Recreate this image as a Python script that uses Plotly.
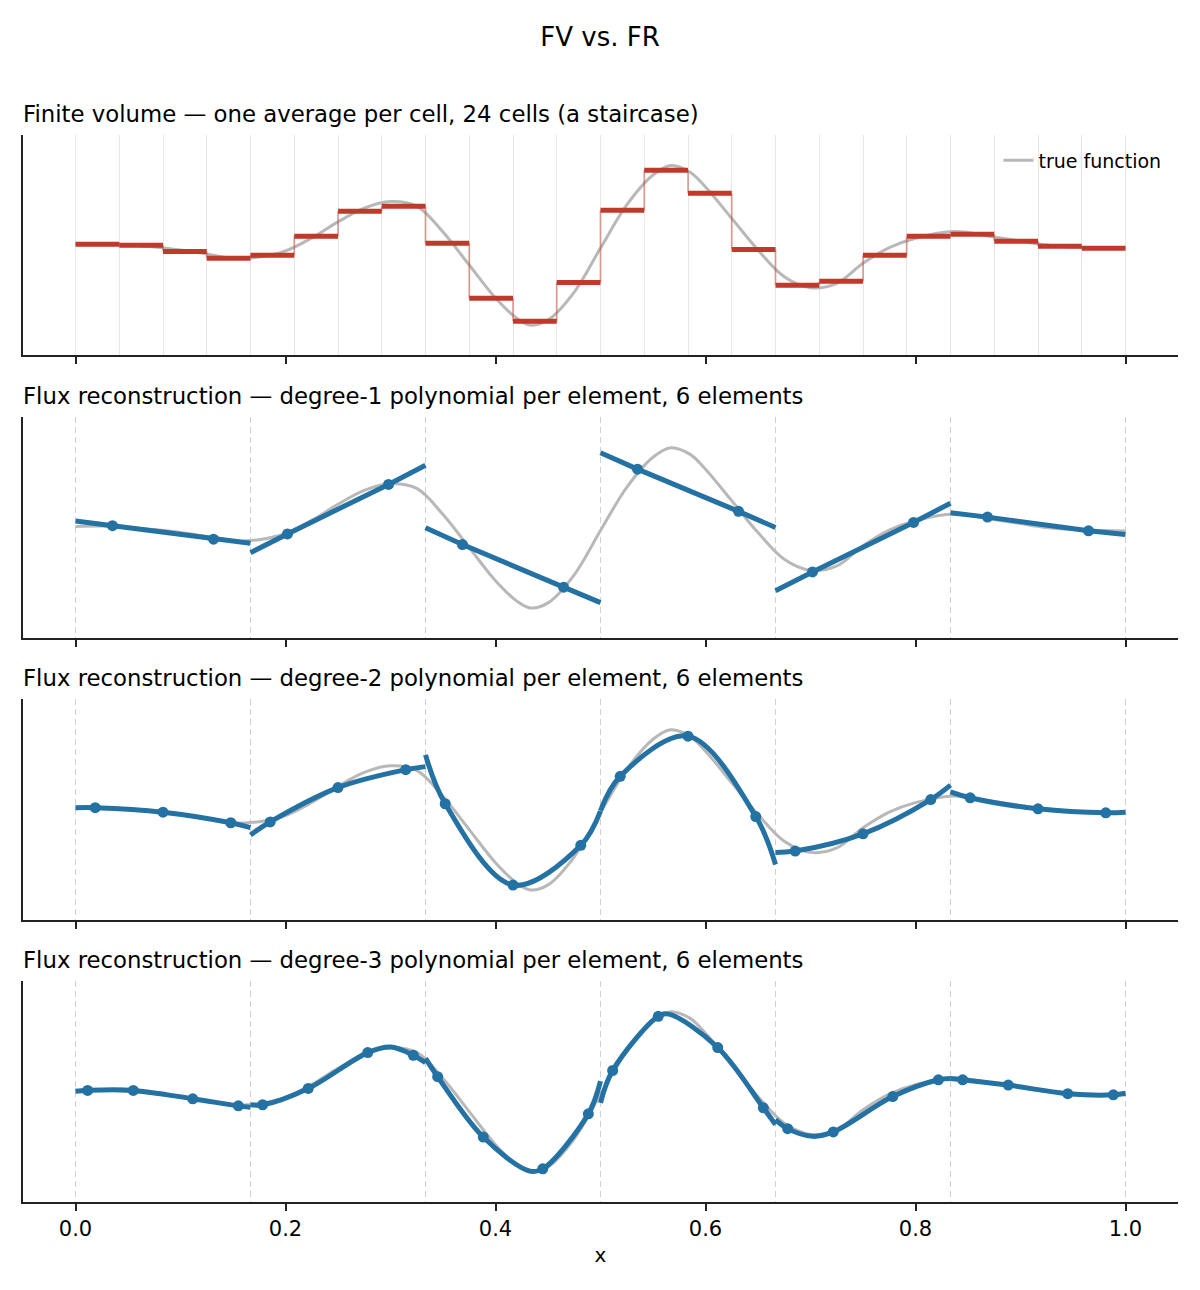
import plotly.graph_objects as go

# ---- data ----
true_x = [0.0, 0.025, 0.05, 0.075, 0.1, 0.125, 0.15, 0.175, 0.2, 0.225, 0.25, 0.275,
          0.3, 0.325, 0.35, 0.375, 0.4, 0.42, 0.433, 0.45, 0.475, 0.5, 0.525, 0.55,
          0.567, 0.585, 0.6, 0.625, 0.65, 0.675, 0.7, 0.725, 0.75, 0.775, 0.8, 0.837,
          0.875, 0.9, 0.925, 0.95, 0.975, 1.0]
true_y = [0.505, 0.507, 0.500, 0.491, 0.477, 0.459, 0.439, 0.445, 0.473, 0.532, 0.605, 0.668,
          0.698, 0.677, 0.559, 0.409, 0.259, 0.168, 0.136, 0.159, 0.286, 0.486, 0.682, 0.818,
          0.861, 0.832, 0.764, 0.621, 0.477, 0.356, 0.306, 0.326, 0.417, 0.488, 0.531, 0.561,
          0.536, 0.518, 0.500, 0.491, 0.486, 0.484]

fv_avg = [0.503, 0.499, 0.471, 0.440, 0.453, 0.540, 0.653, 0.676, 0.508, 0.258, 0.153, 0.330,
          0.658, 0.840, 0.735, 0.480, 0.317, 0.335, 0.453, 0.540, 0.549, 0.517, 0.494, 0.485]

n_elem = 6
x_ticks = [0.0, 0.2, 0.4, 0.6, 0.8, 1.0]

# solution points inside an element (fraction of element width)
sp_deg1 = [0.2113, 0.7887]
sp_deg2 = [0.1127, 0.5, 0.8873]
sp_deg3 = [0.0694, 0.33, 0.67, 0.9306]

# degree 1: values at solution points and at the element ends
deg1_nodes = [[0.508, 0.447], [0.471, 0.695], [0.423, 0.230],
              [0.764, 0.573], [0.299, 0.523], [0.547, 0.485]]
deg1_ends = [[0.529, 0.429], [0.386, 0.782], [0.499, 0.160],
             [0.838, 0.500], [0.214, 0.610], [0.567, 0.468]]

# degree 2
deg2_nodes = [[0.508, 0.488, 0.440], [0.444, 0.599, 0.680], [0.526, 0.158, 0.338],
              [0.650, 0.832, 0.468], [0.312, 0.390, 0.545], [0.553, 0.503, 0.485]]
deg2_ends = [[0.508, 0.418], [0.385, 0.694], [0.747, 0.493],
             [0.495, 0.251], [0.305, 0.610], [0.580, 0.488]]

# degree 3
deg3_nodes = [[0.505, 0.505, 0.467, 0.435], [0.440, 0.514, 0.676, 0.664],
              [0.567, 0.294, 0.150, 0.399], [0.595, 0.840, 0.699, 0.426],
              [0.332, 0.317, 0.477, 0.553], [0.553, 0.529, 0.490, 0.485]]
deg3_ends = [[0.501, 0.429], [0.440, 0.630], [0.650, 0.547],
             [0.449, 0.350], [0.373, 0.559], [0.559, 0.492]]
# extra points read where the curve turns between solution points
deg3_extra_x = [None, 0.300, 0.432, 0.565, 0.702, None]
deg3_extra_y = [None, 0.701, 0.141, 0.850, 0.297, None]

titles = [
    "Finite volume \u2014 one average per cell, 24 cells (a staircase)",
    "Flux reconstruction \u2014 degree-1 polynomial per element, 6 elements",
    "Flux reconstruction \u2014 degree-2 polynomial per element, 6 elements",
    "Flux reconstruction \u2014 degree-3 polynomial per element, 6 elements",
]

# ---- styling ----
FONT = "DejaVu Sans"
GREY = "#b8b8b8"
RED = "#c0392b"
BLUE = "#2471a3"
AXC = "#222222"

# page has an 8px body margin, so the figure is drawn 8px in from the corner
W, H = 1184, 1274
ML, MR, MT, MB = 15, 14, 127, 80
panels_px = [(127, 347), (409, 630), (691, 912), (973, 1194)]
ph = H - MT - MB
domains = [[(H - MB - b) / ph, (H - MB - t) / ph] for t, b in panels_px]

n_cells = len(fv_avg)
cell_edges = [i / n_cells for i in range(n_cells + 1)]
elem_edges = [i / n_elem for i in range(n_elem + 1)]

fig = go.Figure()

# panel 1: finite volume
fig.add_trace(go.Scatter(x=true_x, y=true_y, mode="lines", name="true function",
                         line=dict(color=GREY, width=3, shape="spline"),
                         xaxis="x", yaxis="y", showlegend=True))
cx, cy = [], []
for i in range(n_cells - 1):
    cx += [cell_edges[i + 1], cell_edges[i + 1], None]
    cy += [fv_avg[i], fv_avg[i + 1], None]
fig.add_trace(go.Scatter(x=cx, y=cy, mode="lines", showlegend=False,
                         line=dict(color="rgba(192,57,43,0.45)", width=1.8),
                         xaxis="x", yaxis="y"))
bx, by = [], []
for i, v in enumerate(fv_avg):
    bx += [cell_edges[i], cell_edges[i + 1], None]
    by += [v, v, None]
fig.add_trace(go.Scatter(x=bx, y=by, mode="lines", showlegend=False,
                         line=dict(color=RED, width=5), xaxis="x", yaxis="y"))

# panels 2-4: flux reconstruction
fr_sets = [
    (sp_deg1, deg1_nodes, deg1_ends, None, None, "linear"),
    (sp_deg2, deg2_nodes, deg2_ends, None, None, "spline"),
    (sp_deg3, deg3_nodes, deg3_ends, deg3_extra_x, deg3_extra_y, "spline"),
]
for p, (sp, nodes, ends, ex, ey, shape) in enumerate(fr_sets):
    ax = "x%d" % (p + 2)
    ay = "y%d" % (p + 2)
    fig.add_trace(go.Scatter(x=true_x, y=true_y, mode="lines", showlegend=False,
                             line=dict(color=GREY, width=3, shape="spline"),
                             xaxis=ax, yaxis=ay))
    lx, ly, mx, my = [], [], [], []
    for k in range(n_elem):
        x0, x1 = elem_edges[k], elem_edges[k + 1]
        nx = [x0 + r * (x1 - x0) for r in sp]
        pts = [(x0, ends[k][0])] + list(zip(nx, nodes[k])) + [(x1, ends[k][1])]
        if ex is not None and ex[k] is not None:
            pts.append((ex[k], ey[k]))
        pts.sort()
        lx += [q[0] for q in pts] + [None]
        ly += [q[1] for q in pts] + [None]
        mx += nx
        my += nodes[k]
    fig.add_trace(go.Scatter(x=lx, y=ly, mode="lines", showlegend=False,
                             line=dict(color=BLUE, width=5, shape=shape),
                             xaxis=ax, yaxis=ay))
    fig.add_trace(go.Scatter(x=mx, y=my, mode="markers", showlegend=False,
                             marker=dict(color=BLUE, size=11),
                             xaxis=ax, yaxis=ay))

# axes
for i in range(4):
    sfx = "" if i == 0 else str(i + 1)
    if i == 0:
        minor = dict(tickvals=cell_edges, showgrid=True, gridcolor="#e6e6e6",
                     gridwidth=1, ticks="")
    else:
        minor = dict(tickvals=elem_edges, showgrid=True, gridcolor="#d0d0d0",
                     gridwidth=1.3, griddash="6px,4px", ticks="")
    xa = dict(domain=[0, 1], range=[-0.05, 1.05], anchor="y" + sfx,
              tickvals=x_ticks, tickformat=".1f", ticks="outside", ticklen=7,
              tickwidth=1.6, tickcolor=AXC, showline=True, linecolor=AXC,
              linewidth=1.6, showgrid=False, zeroline=False, minor=minor,
              showticklabels=(i == 3), tickfont=dict(size=21, color="black"))
    if i == 3:
        xa["title"] = dict(text="x", font=dict(size=20, color="black"), standoff=8)
    ya = dict(domain=domains[i], range=[0, 1], anchor="x" + sfx, showline=True,
              linecolor=AXC, linewidth=1.6, showgrid=False, zeroline=False,
              showticklabels=False, ticks="")
    fig.update_layout({"xaxis" + sfx: xa, "yaxis" + sfx: ya})

annotations = []
for i, t in enumerate(titles):
    annotations.append(dict(text=t, xref="paper", yref="paper", x=0, y=domains[i][1],
                            xanchor="left", yanchor="middle", xshift=-2, yshift=21,
                            showarrow=False, font=dict(size=22.8, color="black")))

fig.update_layout(
    width=W, height=H,
    margin=dict(l=ML, r=MR, t=MT, b=MB),
    paper_bgcolor="white", plot_bgcolor="white",
    font=dict(family=FONT, color="black"),
    title=dict(text="FV vs. FR", x=0.5, xref="container", y=1 - 29 / H,
               yref="container", yanchor="middle", xanchor="center",
               font=dict(size=26, color="black")),
    annotations=annotations,
    legend=dict(x=0.99, y=0.994, xanchor="right", yanchor="top",
                font=dict(size=19, color="black"), bgcolor="rgba(255,255,255,0)"),
)

fig.write_html("out.html")
